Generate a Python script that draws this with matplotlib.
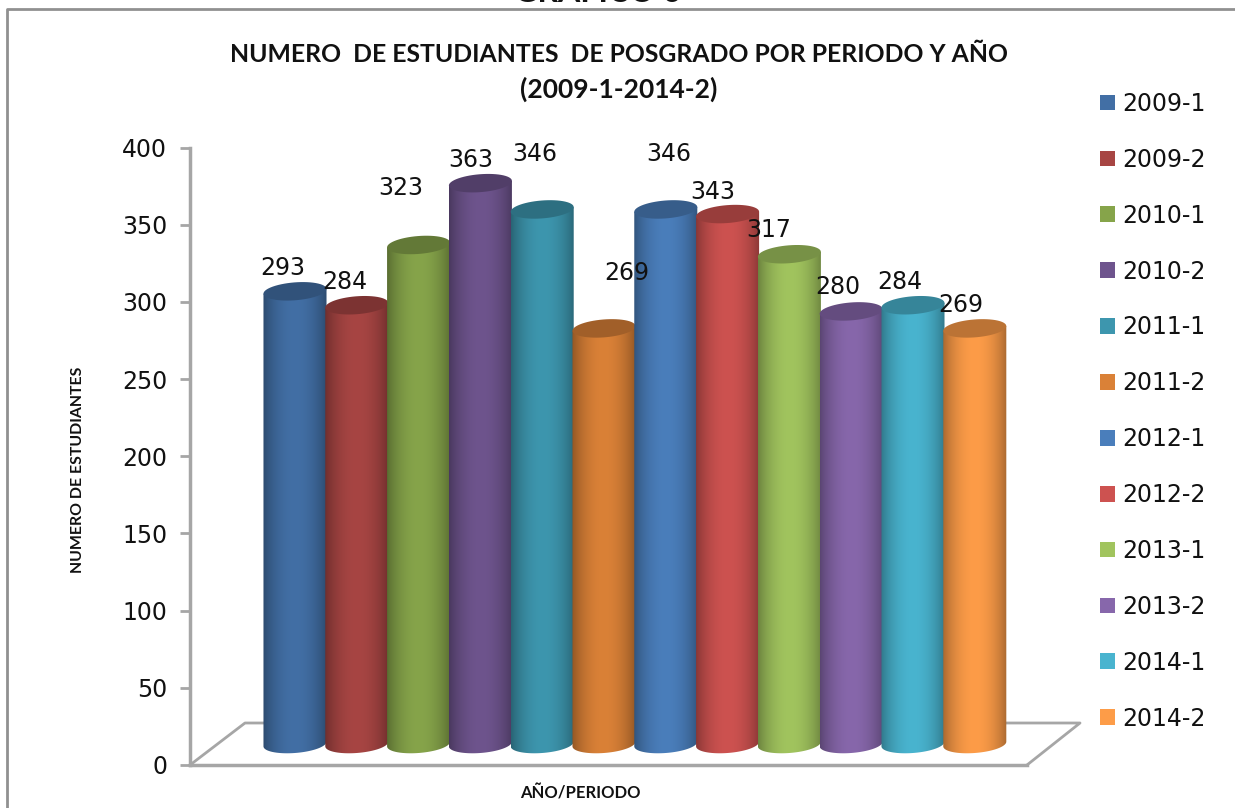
#!/usr/bin/env python3
"""Estudiantes de posgrado por periodo: cylinder style column chart."""

import matplotlib

matplotlib.use("Agg")
import matplotlib.pyplot as plt
import numpy as np
from matplotlib.colors import to_rgb
from matplotlib.patches import Patch, PathPatch, Polygon
from matplotlib.path import Path

periods = ["2009-1", "2009-2", "2010-1", "2010-2", "2011-1", "2011-2",
           "2012-1", "2012-2", "2013-1", "2013-2", "2014-1", "2014-2"]
students = [293, 284, 323, 363, 346, 269, 346, 343, 317, 280, 284, 269]
colors = ["#426fa5", "#a74543", "#86a44a", "#6e548d", "#3d96ae", "#da8137",
          "#4a7ebb", "#cd5250", "#a1c45e", "#8767ab", "#49b4cf", "#fd9c48"]
# the source chart nudged its labels by hand; offsets in pixels from the bar top
label_dx = [-12, -12, -18, -10, -7, 23, 3, -15, -21, -13, -13, -14]
label_dy = [23, 23, 57, 23, 55, 55, 55, 22, 24, 24, 23, 23]
y_ticks = [0, 50, 100, 150, 200, 250, 300, 350, 400]

W, H = 1235, 808
GRAY = "#a6a6a6"
BAR_W = 1.02
RY = 5.8  # ellipse half height, in data units
TILT = 1.5


def px_axes(fig, left, right, top, bottom):
    return fig.add_axes([left / W, 1 - bottom / H, (right - left) / W, (bottom - top) / H])


def ellipse(i, y, start=0.0, stop=2 * np.pi):
    t = np.linspace(start, stop, 60)
    return i + BAR_W / 2 * np.cos(t), y + RY * np.sin(t) + TILT * np.cos(t)


fig = plt.figure(figsize=(W / 100, H / 100), dpi=100)

# outer frame, open on the right where the source image was cropped
fig.add_artist(plt.Line2D([6.5 / W, 6.5 / W, 1], [0, 1 - 9 / H, 1 - 9 / H], color="#909090", lw=2))
fig.text(598 / W, 1 + 8 / H, "GRAFICO 6", ha="center", va="center", fontsize=23,
         fontweight="bold", family="Lato", color="#111111")

# value axis and floor
ax = px_axes(fig, 190, 1027, 147.5, 765)
ax.set_xlim(0, 1)
ax.set_ylim(0, 400)
ax.set_xticks([])
ax.set_yticks(y_ticks)
ax.tick_params(axis="y", length=7, width=2, color=GRAY, labelsize=17, pad=9.5, labelcolor="#111111")
for side in ("top", "right"):
    ax.spines[side].set_visible(False)
for side in ("left", "bottom"):
    ax.spines[side].set_color(GRAY)
    ax.spines[side].set_linewidth(2.5)
floor_x = np.array([190, 245, 1080, 1027])
floor_y = np.array([765, 723, 723, 765])
ax.plot((floor_x - 190) / 837, (765 - floor_y) / 617.5, color=GRAY, lw=2,
        transform=ax.transAxes, clip_on=False)

# columns sit on the raised back plane, which has its own scale
bx = px_axes(fig, 190, 1027, 126, 744 + 12 * 1.5475)
bx.patch.set_alpha(0)
bx.axis("off")
shade = 0.58 + 0.42 * np.sin(np.linspace(0.12, np.pi - 0.12, 64)) ** 0.7
for i, (value, color) in enumerate(zip(students, colors)):
    rgb = np.array(to_rgb(color))
    grad = shade[None, :, None] * rgb[None, None, :]
    im = bx.imshow(grad, extent=(i - BAR_W / 2, i + BAR_W / 2, -RY - 2, value + 2),
                   aspect="auto", zorder=2 + i, interpolation="bilinear")
    low_x, low_y = ellipse(i, 0, np.pi, 2 * np.pi)
    xs = np.r_[low_x, i + BAR_W / 2, i - BAR_W / 2, low_x[0]]
    ys = np.r_[low_y, value + TILT, value - TILT, low_y[0]]
    body = PathPatch(Path(np.c_[xs, ys]), transform=bx.transData)
    im.set_clip_path(body)
    top_x, top_y = ellipse(i, value)
    bx.add_patch(Polygon(np.c_[top_x, top_y], closed=True, facecolor=rgb * 0.74,
                         edgecolor="none", zorder=2 + i))
bx.set_xlim(-1.699, 11.845)
bx.set_ylim(-12, 400)

for i, value in enumerate(students):
    bx.annotate(str(value), (i, value), xytext=(label_dx[i] * 0.72, label_dy[i] * 0.72),
                textcoords="offset points", ha="center", va="center", fontsize=17,
                color="#111111", zorder=30, annotation_clip=False)

fig.text(619 / W, 1 - 54 / H, "NUMERO  DE ESTUDIANTES  DE POSGRADO POR PERIODO Y AÑO",
         ha="center", va="center", fontsize=17.8, fontweight="bold", family="Lato", color="#111111")
fig.text(619 / W, 1 - 89 / H, "(2009-1-2014-2)", ha="center", va="center", fontsize=19,
         fontweight="bold", family="Lato", color="#111111")
fig.text(78 / W, 1 - 470 / H, "NUMERO DE ESTUDIANTES", rotation=90, ha="center", va="center",
         fontsize=11.4, fontweight="bold", family="Lato", color="#111111")
fig.text(580 / W, 1 - 793 / H, "AÑO/PERIODO", ha="center", va="center", fontsize=12,
         fontweight="bold", family="Lato", color="#111111")

handles = [Patch(facecolor=c, edgecolor="none", label=p) for p, c in zip(periods, colors)]
fig.legend(handles=handles, loc="upper left", bbox_to_anchor=(1081 / W, 1 - 73 / H),
           frameon=False, fontsize=17, labelspacing=1.35, handlelength=0.65, handleheight=0.65,
           handletextpad=0.3, borderpad=0.3, labelcolor="#111111")

fig.savefig("out.png", dpi=100)
